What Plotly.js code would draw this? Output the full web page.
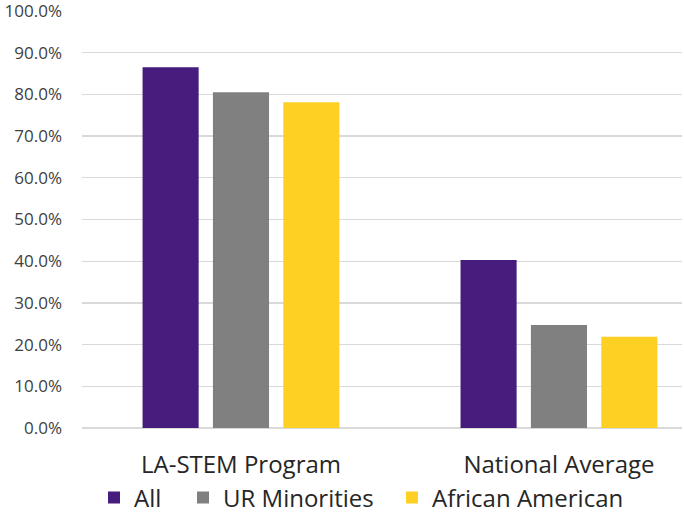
<!DOCTYPE html>
<html><head><meta charset="utf-8">
<script src="https://cdn.plot.ly/plotly-3.0.1.min.js"></script>
<style>html,body{margin:0;padding:0;background:#fff}#chart{width:684px;height:514px}</style>
</head><body><div id="chart"></div>
<script>
const categories = ["LA-STEM Program", "National Average"];
const seriesNames = ["All", "UR Minorities", "African American"];
const allValues = [86.5, 40.3];
const urMinorityValues = [80.5, 24.7];
const africanAmericanValues = [78.1, 21.9];
const colors = ["#461D7C", "#808080", "#FDD023"];
const yTickVals = [0,10,20,30,40,50,60,70,80,90,100];
const yTickText = ["0.0%","10.0%","20.0%","30.0%","40.0%","50.0%","60.0%","70.0%","80.0%","90.0%","100.0%"];

const series = [allValues, urMinorityValues, africanAmericanValues];
const legendIds = ["legend", "legend2", "legend3"];
const legendLeft = [94, 183, 392];
const traces = series.map((vals, i) => ({
  type: "bar", x: categories, y: vals, name: seriesNames[i],
  marker: {color: colors[i]}, hoverinfo: "none", legend: legendIds[i]
}));

const legendBase = (left) => ({
  orientation: "h", x: left / 684, xref: "container", xanchor: "left",
  y: 16 / 514, yref: "container", yanchor: "middle",
  font: {size: 24, color: "#262626"}, itemwidth: 30, bgcolor: "rgba(0,0,0,0)"
});

const layout = {
  width: 684, height: 514,
  margin: {l: 82, r: 2, t: 11, b: 86},
  paper_bgcolor: "#fff", plot_bgcolor: "#fff",
  barmode: "group", bargap: 0.336, bargroupgap: 0.203,
  font: {family: "Open Sans, sans-serif", color: "#404040"},
  xaxis: {
    type: "category", range: [-0.5, 1.387],
    showgrid: false, zeroline: false, showline: false, ticks: "",
    tickfont: {size: 24, color: "#262626"}, ticklabelstandoff: 20
  },
  yaxis: {
    range: [0, 100], tickvals: yTickVals, ticktext: yTickText,
    showgrid: true, gridcolor: "#d9d9d9", gridwidth: 1.3,
    zeroline: true, zerolinecolor: "#d9d9d9", zerolinewidth: 1.3,
    showline: false, ticks: "", tickfont: {size: 17, color: "#404040"},
    ticklabelstandoff: 19, ticklabeloverflow: "allow"
  },
  legend: legendBase(legendLeft[0]),
  legend2: legendBase(legendLeft[1]),
  legend3: legendBase(legendLeft[2]),
  showlegend: true
};
Plotly.newPlot("chart", traces, layout, {staticPlot: true});
</script></body></html>
